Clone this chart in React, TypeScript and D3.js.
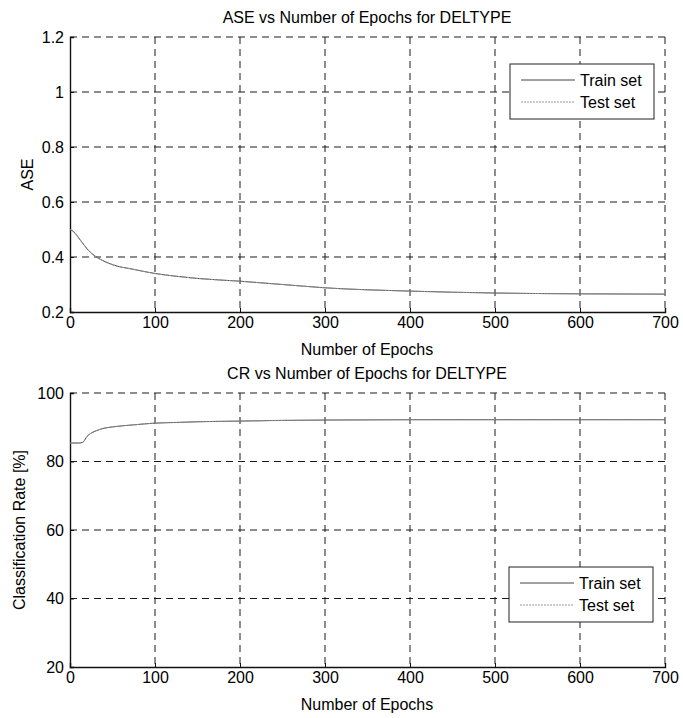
import React, { useEffect, useRef } from 'react';
import * as d3 from 'd3';

// epochs sampled along the curves
const epochs = [0, 5, 10, 15, 20, 31, 40, 50, 75, 100, 125, 150, 200, 250, 300, 400, 500, 600, 700];

// ASE curves (train and test lie on top of each other)
const aseTrain = [0.5, 0.49, 0.47, 0.45, 0.43, 0.4, 0.385, 0.372, 0.355, 0.34, 0.33, 0.322, 0.312, 0.3, 0.288, 0.276, 0.269, 0.266, 0.265];
const aseTest = [0.5, 0.49, 0.47, 0.45, 0.43, 0.4, 0.385, 0.372, 0.355, 0.34, 0.33, 0.322, 0.312, 0.3, 0.288, 0.276, 0.269, 0.266, 0.265];

// classification rate curves [%]
const crTrain = [85.4, 85.4, 85.4, 85.6, 87.3, 89.0, 89.7, 90.1, 90.7, 91.2, 91.4, 91.6, 91.8, 92.0, 92.1, 92.2, 92.2, 92.2, 92.2];
const crTest = [85.4, 85.4, 85.4, 85.6, 87.3, 89.0, 89.7, 90.1, 90.7, 91.2, 91.4, 91.6, 91.8, 92.0, 92.1, 92.2, 92.2, 92.2, 92.2];

const xTicks = [0, 100, 200, 300, 400, 500, 600, 700];
const aseTicks = [0.2, 0.4, 0.6, 0.8, 1, 1.2];
const crTicks = [20, 40, 60, 80, 100];
const seriesNames = ['Train set', 'Test set'];

const App = () => {
    const svgRef = useRef<SVGSVGElement>(null);

    useEffect(() => {
        const svg = d3.select(svgRef.current);
        svg.selectAll('*').remove();
        const font = 'Liberation Sans, Arial, sans-serif';
        const fs = '16px';

        const drawPanel = (opts) => {
            const { top, bottom, yDomain, yTicks, title, yLabel, train, test, legend } = opts;
            const x = d3.scaleLinear().domain([0, 700]).range([70, 665]);
            const y = d3.scaleLinear().domain(yDomain).range([bottom, top]);
            const g = svg.append('g');

            // dashed grid (also stands in for the faded top/right box)
            g.selectAll('line.vg')
                .data(xTicks.slice(1))
                .enter()
                .append('line')
                .attr('x1', d => x(d)).attr('x2', d => x(d))
                .attr('y1', top).attr('y2', bottom)
                .attr('stroke', '#1a1a1a').attr('stroke-dasharray', '7,5');
            g.selectAll('line.hg')
                .data(yTicks.slice(1))
                .enter()
                .append('line')
                .attr('x1', 70).attr('x2', 665)
                .attr('y1', d => y(d)).attr('y2', d => y(d))
                .attr('stroke', '#1a1a1a').attr('stroke-dasharray', '7,5');

            // axes
            const xAxis = g.append('g')
                .attr('transform', `translate(0,${bottom})`)
                .call(d3.axisBottom(x).tickValues(xTicks).tickSize(-4).tickPadding(5));
            const yAxis = g.append('g')
                .attr('transform', 'translate(70,0)')
                .call(d3.axisLeft(y).tickValues(yTicks).tickSize(-4).tickPadding(6).tickFormat(d => `${d}`));
            [xAxis, yAxis].forEach(a => {
                a.select('.domain').attr('stroke', '#111').attr('stroke-width', 1.4);
                a.selectAll('.tick line').attr('stroke', '#111');
                a.selectAll('text').style('font-family', font).style('font-size', fs).attr('fill', '#000');
            });

            // curves
            const line = d3.line<number>()
                .x((d, i) => x(epochs[i]))
                .y(d => y(d))
                .curve(d3.curveMonotoneX);
            g.append('path').datum(train).attr('d', line)
                .attr('fill', 'none').attr('stroke', '#444').attr('stroke-width', 1);
            g.append('path').datum(test).attr('d', line)
                .attr('fill', 'none').attr('stroke', '#999').attr('stroke-width', 1).attr('stroke-dasharray', '2,1');

            // title and labels
            g.append('text')
                .attr('x', 367).attr('y', top - 14)
                .attr('text-anchor', 'middle')
                .style('font-family', font).style('font-size', fs)
                .text(title);
            g.append('text')
                .attr('x', 367).attr('y', bottom + 43)
                .attr('text-anchor', 'middle')
                .style('font-family', font).style('font-size', fs)
                .text('Number of Epochs');
            g.append('text')
                .attr('transform', `translate(${opts.yLabelX},${(top + bottom) / 2})rotate(-90)`)
                .attr('text-anchor', 'middle')
                .style('font-family', font).style('font-size', fs)
                .text(yLabel);

            // legend
            const lg = g.append('g').attr('transform', `translate(${legend.x},${legend.y})`);
            lg.append('rect')
                .attr('width', 144).attr('height', 55)
                .attr('fill', '#fff').attr('stroke', '#222');
            lg.selectAll('line')
                .data(seriesNames)
                .enter()
                .append('line')
                .attr('x1', 11).attr('x2', 65)
                .attr('y1', (d, i) => 16 + i * 22).attr('y2', (d, i) => 16 + i * 22)
                .attr('stroke', (d, i) => (i === 0 ? '#444' : '#999'))
                .attr('stroke-dasharray', (d, i) => (i === 0 ? null : '2,1'));
            lg.selectAll('text')
                .data(seriesNames)
                .enter()
                .append('text')
                .attr('x', 70).attr('y', (d, i) => 22 + i * 22)
                .style('font-family', font).style('font-size', fs)
                .text(d => d);
        };

        drawPanel({
            top: 37, bottom: 312, yDomain: [0.2, 1.2], yTicks: aseTicks,
            title: 'ASE vs Number of Epochs for DELTYPE', yLabel: 'ASE', yLabelX: 33,
            train: aseTrain, test: aseTest, legend: { x: 510, y: 64 }
        });
        drawPanel({
            top: 393, bottom: 667, yDomain: [20, 100], yTicks: crTicks,
            title: 'CR vs Number of Epochs for DELTYPE', yLabel: 'Classification Rate [%]', yLabelX: 25,
            train: crTrain, test: crTest, legend: { x: 509, y: 567 }
        });
    }, []);

    return (
        <svg ref={svgRef} width={683} height={718} style={{ display: 'block', position: 'absolute', left: 0, top: 0, background: '#fff' }} />
    );
};

export default App;
